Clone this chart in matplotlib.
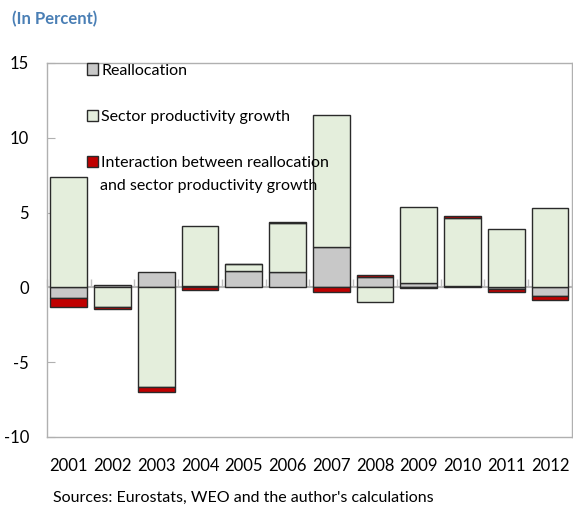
import numpy as np
import matplotlib
matplotlib.use("Agg")
import matplotlib.pyplot as plt
from matplotlib.patches import Patch

plt.rcParams['font.family'] = ['Lato', 'DejaVu Sans']
plt.rcParams['axes.unicode_minus'] = False

# --- data (percent) ---
years = ['2001', '2002', '2003', '2004', '2005', '2006',
         '2007', '2008', '2009', '2010', '2011', '2012']
reallocation = [-0.70, 0.15, 1.05, 0.10, 1.10, 1.00, 2.67, 0.70, 0.30, 0.08, -0.10, -0.55]
sector_growth = [7.35, -1.33, -6.65, 4.00, 0.43, 3.27, 8.85, -1.00, 5.05, 4.57, 3.87, 5.29]
interaction = [-0.60, -0.10, -0.33, -0.17, 0.00, 0.07, -0.29, 0.13, -0.03, 0.10, -0.20, -0.28]

series = [
    ('Reallocation', reallocation, '#c8c8c8'),
    ('Sector productivity growth', sector_growth, '#e4eedc'),
    ('Interaction between reallocation', interaction, '#c00000'),
]
second_line = 'and sector productivity growth'

FS = 11.5

fig = plt.figure(figsize=(5.73, 5.08), dpi=100)
ax = fig.add_axes([0.082, 0.14, 0.916, 0.736])

x = np.arange(len(years))
pos_base = np.zeros(len(years))
neg_base = np.zeros(len(years))
handles = []
for label, vals, col in series:
    v = np.array(vals)
    bottom = np.where(v >= 0, pos_base, neg_base)
    ax.bar(x, v, width=0.84, bottom=bottom, color=col, edgecolor='#2a2a2a',
           linewidth=1.0, zorder=3)
    pos_base = pos_base + np.clip(v, 0, None)
    neg_base = neg_base + np.clip(v, None, 0)
    handles.append(Patch(facecolor=col, edgecolor='#2a2a2a', linewidth=1.0, label=label))

ax.set_xlim(-0.5, len(years) - 0.5)
ax.set_ylim(-10, 15)
ax.set_yticks([-10, -5, 0, 5, 10, 15])
ax.set_xticks(x)
ax.set_xticklabels(years)
ax.tick_params(axis='x', length=0, pad=15, labelsize=FS + 0.5)
ax.tick_params(axis='y', direction='in', length=6, color='#b0b0b0', pad=13, labelsize=FS + 0.5)
for s in ax.spines.values():
    s.set_color('#b0b0b0')
    s.set_linewidth(1.0)

# zero line with small category-boundary ticks
ax.axhline(0, color='#b8b8b8', linewidth=1.5, zorder=2)
zero_ax = ax.secondary_xaxis(10 / 25)
zero_ax.set_xticks(np.arange(-0.5, len(years), 1))
zero_ax.tick_params(direction='in', length=6, color='#c0c0c0', labelbottom=False, width=1.0)
zero_ax.spines['bottom'].set_visible(False)

leg = ax.legend(handles=handles, loc='upper left', bbox_to_anchor=(0.064, 1.016),
                frameon=False, fontsize=FS, handlelength=0.7, handleheight=0.7,
                handletextpad=0.2, labelspacing=2.0, borderaxespad=0)
# second line of the third legend label, hanging under the first line
fig.text(0.1745, 0.634, second_line, fontsize=FS, ha='left', va='center')

fig.text(0.021, 0.962, '(In Percent)', fontsize=FS + 0.5, fontweight='bold',
         color='#4a7fb5', ha='left', va='center')
fig.text(0.092, 0.02, "Sources: Eurostats, WEO and the author's calculations",
         fontsize=FS, ha='left', va='center')

fig.savefig('out.png', dpi=100)
